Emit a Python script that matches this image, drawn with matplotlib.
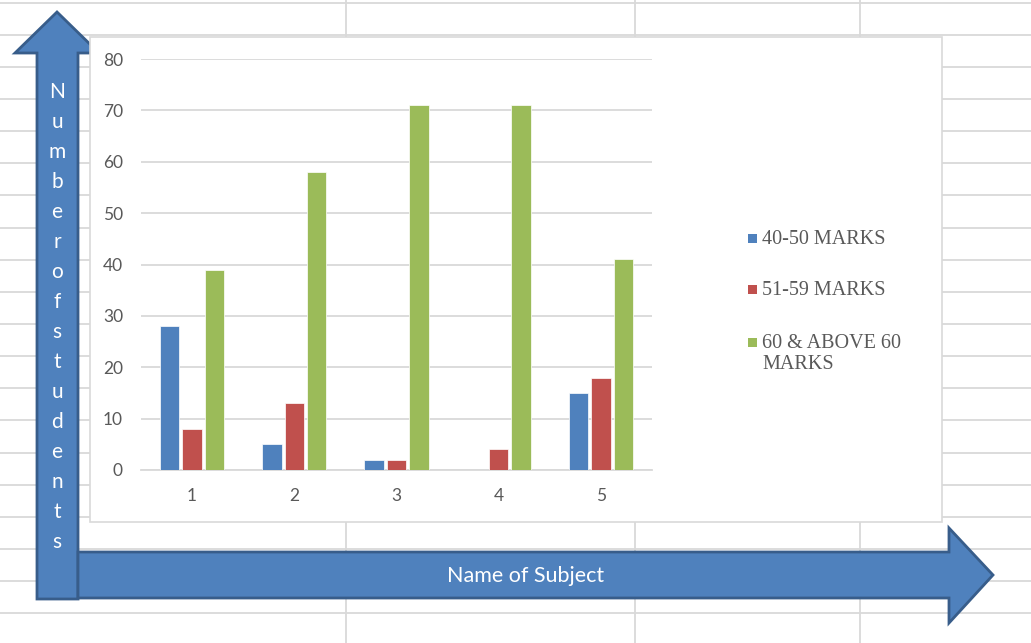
import numpy as np
import matplotlib.pyplot as plt
from matplotlib.patches import Polygon, Rectangle

subjects = ['1', '2', '3', '4', '5']
series_names = ['40-50 MARKS', '51-59 MARKS', '60 & ABOVE 60\nMARKS']
marks_40_50 = [28, 5, 2, 0, 15]
marks_51_59 = [8, 13, 2, 4, 18]
marks_60_up = [39, 58, 71, 71, 41]
y_ticks = [0, 10, 20, 30, 40, 50, 60, 70, 80]

colors = ['#4F81BD', '#C0504D', '#9BBB59']
arrow_fill = '#4F81BD'
arrow_edge = '#385D8A'
grey_text = '#595959'
cell_line = '#D9D9D9'

W, H = 1031, 643
fig = plt.figure(figsize=(W / 100, H / 100), dpi=100)

# background in pixel coordinates: spreadsheet cells, arrows, chart area
bg = fig.add_axes([0, 0, 1, 1])
bg.set_xlim(0, W)
bg.set_ylim(H, 0)
bg.axis('off')

for y in np.arange(2.5, 620, 32.15):
    bg.plot([0, W], [y, y], color=cell_line, lw=1.3, zorder=0)
for x in [346, 635, 860]:
    bg.plot([x, x], [0, H], color=cell_line, lw=1.3, zorder=0)

up_arrow = Polygon([(37, 599), (37, 53), (15, 53), (57, 12), (99, 53),
                    (78, 53), (78, 599)], closed=True,
                   facecolor=arrow_fill, edgecolor=arrow_edge, lw=2, zorder=2)
bg.add_patch(up_arrow)
right_arrow = Polygon([(78, 552), (949, 552), (949, 528), (993, 575),
                       (949, 623), (949, 598), (78, 598)], closed=True,
                      facecolor=arrow_fill, edgecolor=arrow_edge, lw=2, zorder=2)
bg.add_patch(right_arrow)

for i, ch in enumerate('Numberofstudents'):
    bg.text(57, 98 + 30 * i, ch, color='white', fontsize=15, family='Lato',
            ha='center', va='baseline', zorder=3)
bg.text(526, 576, 'Name of Subject', color='white', fontsize=15.5,
        family='Lato', ha='center', va='center', zorder=3)

chart_area = Rectangle((90, 37), 852, 485, facecolor='white',
                       edgecolor=cell_line, lw=1.2, zorder=4)
bg.add_patch(chart_area)

# legend drawn by hand so the marker sits on the first line of each label
legend_y = [238, 289, 342]
for name, c, ly in zip(series_names, colors, legend_y):
    bg.add_patch(Rectangle((748, ly - 4.5), 9, 9, facecolor=c, zorder=5))
    bg.text(762, ly - 8, name, color=grey_text, fontsize=14.5,
            family='Liberation Serif', ha='left', va='top', zorder=5,
            linespacing=1.15)

# the bar chart itself
ax = fig.add_axes([141 / W, 1 - 470 / H, 511 / W, 411 / H], zorder=1)
ax.patch.set_alpha(0)
x = np.arange(1, len(subjects) + 1)
width = 0.19
step = 0.22
for k, vals in enumerate([marks_40_50, marks_51_59, marks_60_up]):
    ax.bar(x + (k - 1) * step, vals, width, color=colors[k],
           edgecolor='white', lw=0.5, zorder=3)

ax.set_xlim(0.5, 5.5)
ax.set_ylim(0, 80)
ax.set_yticks(y_ticks)
ax.set_xticks(x)
ax.set_xticklabels(subjects)
ax.grid(axis='y', color=cell_line, lw=1.3, zorder=0)
for s in ['top', 'right', 'left']:
    ax.spines[s].set_visible(False)
ax.spines['bottom'].set_color(cell_line)
ax.spines['bottom'].set_linewidth(1.3)
ax.tick_params(axis='both', length=0, colors=grey_text, labelsize=12.5)
ax.tick_params(axis='y', pad=13)
ax.tick_params(axis='x', pad=13)
for lab in ax.get_xticklabels() + ax.get_yticklabels():
    lab.set_family('Lato')

fig.savefig('out.png', dpi=100)
